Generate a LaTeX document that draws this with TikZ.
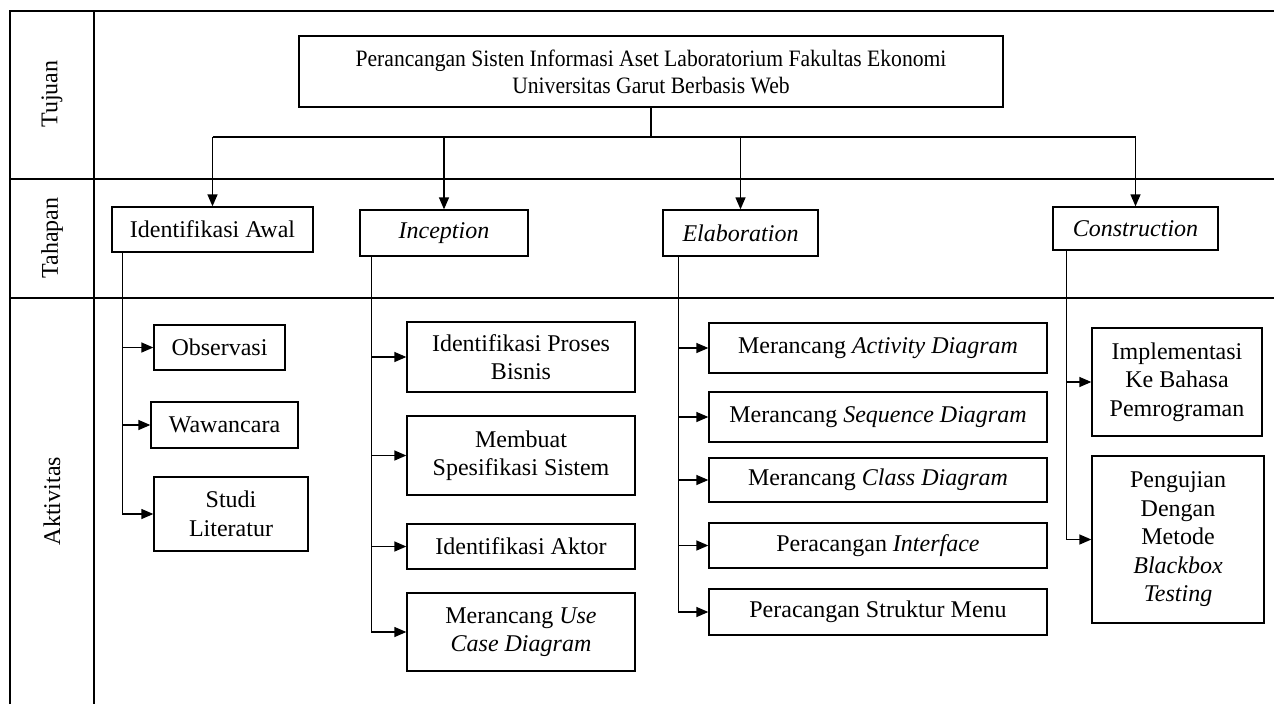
\documentclass[tikz,border=0pt]{standalone}
\usepackage{fontspec}
\setmainfont{Liberation Serif}
\newfontfamily\titlefont[FakeStretch=0.92]{Liberation Serif}
\usetikzlibrary{arrows.meta,calc}
\begin{document}
\begin{tikzpicture}[x=1pt,y=-1pt,
  line width=1.3pt,
  txt/.style={font=\fontsize{24}{28.5}\selectfont},
  box/.style={draw, txt, align=center, inner sep=2pt, minimum width=#1},
  arr/.style={-{Triangle[length=12pt,width=10pt]}},
  lbl/.style={txt, rotate=90}
]
\useasboundingbox (0,0) rectangle (1274,704);
% frame
\draw (10,704) -- (10,11) -- (1274,11);
\draw (94,11) -- (94,704);
\draw (10,179) -- (1274,179);
\draw (10,298) -- (1274,298);
\node[lbl] (ltuj) at (52,94) {Tujuan};
\node[lbl] (ltah) at (52,238) {Tahapan};
\node[lbl] (lakt) at (52,501) {Aktivitas};
% title
\node[box=704pt, minimum height=71pt, font=\titlefont\fontsize{23.5}{27}\selectfont] (title) at (651,71.5)
  {Perancangan Sisten Informasi Aset Laboratorium Fakultas Ekonomi\\Universitas Garut Berbasis Web};
% stages
\node[box=201pt, minimum height=45pt] (awal) at (212.5,229.5) {Identifikasi Awal};
\node[box=168pt, minimum height=46pt] (incep) at (444,233) {\textit{Inception}};
\node[box=155pt, minimum height=46pt] (elab) at (740.5,233) {\textit{Elaboration}};
\node[box=165pt, minimum height=43pt] (cons) at (1135.5,228.5) {\textit{Construction}};
% bus
\coordinate (bus) at (651,137);
\draw (title.south) -- (bus);
\draw (awal.north |- bus) -- (cons.north |- bus);
\foreach \s in {awal,incep,elab,cons}
  \draw[arr] (\s.north |- bus) -- (\s.north);
% activities: Identifikasi Awal
\node[box=131pt, minimum height=45pt] (obs) at (219.5,347.5) {Observasi};
\node[box=147pt, minimum height=46pt] (waw) at (224.5,425) {Wawancara};
\node[box=154pt, minimum height=74pt] (studi) at (231,514) {Studi\\Literatur};
% Inception
\node[box=228pt, minimum height=70pt] (proses) at (521,357) {Identifikasi Proses\\Bisnis};
\node[box=228pt, minimum height=79pt] (spek) at (521,455.5) {Membuat\\Spesifikasi Sistem};
\node[box=228pt, minimum height=45pt] (aktor) at (521,546.5) {Identifikasi Aktor};
\node[box=228pt, minimum height=78pt] (usecase) at (521,632) {Merancang \textit{Use}\\\textit{Case Diagram}};
% Elaboration
\node[box=338pt, minimum height=50pt] (activity) at (878,348) {Merancang \textit{Activity Diagram}};
\node[box=338pt, minimum height=50pt] (sequence) at (878,417) {Merancang \textit{Sequence Diagram}};
\node[box=338pt, minimum height=44pt] (class) at (878,480) {Merancang \textit{Class Diagram}};
\node[box=338pt, minimum height=45pt] (iface) at (878,545.5) {Peracangan \textit{Interface}};
\node[box=338pt, minimum height=46pt] (menu) at (878,612) {Peracangan Struktur Menu};
% Construction
\node[box=170pt, minimum height=108pt] (impl) at (1177,382) {Implementasi\\Ke Bahasa\\Pemrograman};
\node[box=172pt, minimum height=167pt] (uji) at (1178,539.5) {Pengujian\\Dengan\\Metode\\\textit{Blackbox}\\\textit{Testing}};
% trunks
\coordinate (ta) at ([xshift=11pt]awal.south west);
\coordinate (ti) at ([xshift=12pt]incep.south west);
\coordinate (te) at ([xshift=16pt]elab.south west);
\coordinate (tc) at ([xshift=14pt]cons.south west);
\draw[arr] (ta) |- (studi.west);
\draw[arr] (ta |- obs.west) -- (obs.west);
\draw[arr] (ta |- waw.west) -- (waw.west);
\draw[arr] (ti) |- (usecase.west);
\foreach \b in {proses,spek,aktor}
  \draw[arr] (ti |- \b.west) -- (\b.west);
\draw[arr] (te) |- (menu.west);
\foreach \b in {activity,sequence,class,iface}
  \draw[arr] (te |- \b.west) -- (\b.west);
\draw[arr] (tc) |- (uji.west);
\draw[arr] (tc |- impl.west) -- (impl.west);
\end{tikzpicture}
\end{document}
